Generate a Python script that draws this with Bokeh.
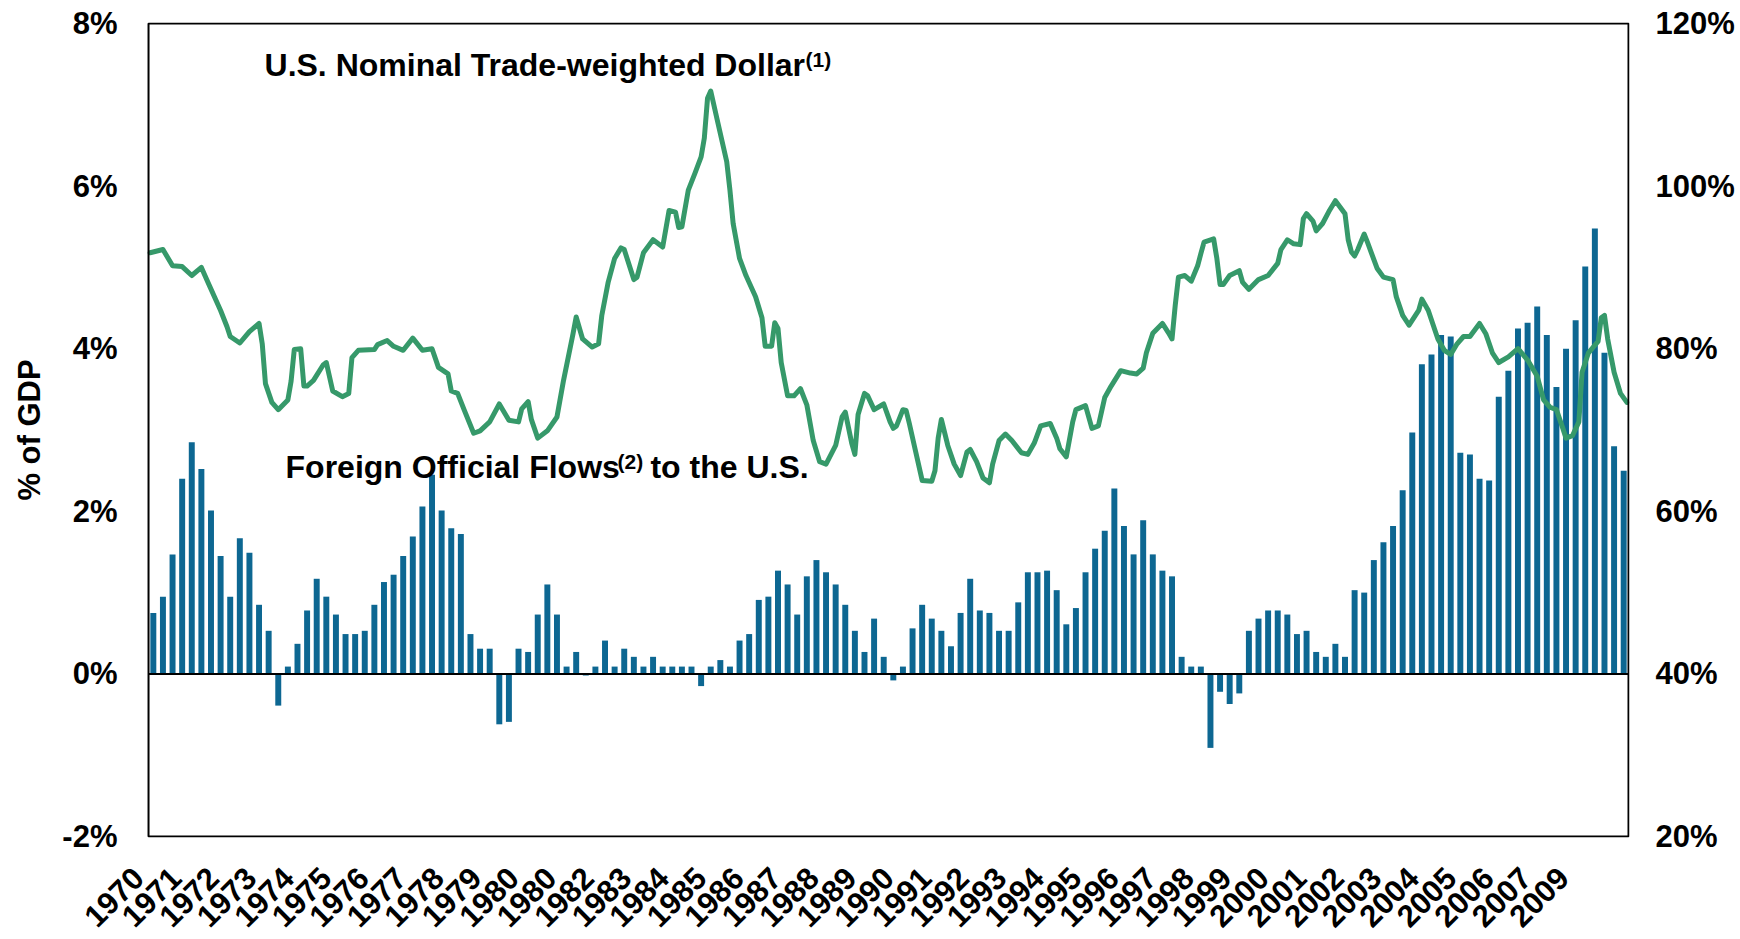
import math
from bokeh.plotting import figure
from bokeh.models import (Range1d, LinearAxis, FixedTicker, PrintfTickFormatter,
                          CustomJSTickFormatter, BoxAnnotation)
from bokeh.core.properties import value
from bokeh.embed import file_html
from bokeh.resources import INLINE

# ---------------- data ----------------
# Foreign official flows to the U.S., % of GDP, quarterly from 1970Q1
flows = [
    0.75, 0.95, 1.47, 2.40, 2.85, 2.52, 2.01, 1.45, 0.95, 1.67,
    1.49, 0.85, 0.53, -0.39, 0.09, 0.37, 0.78, 1.17, 0.95, 0.73,
    0.49, 0.49, 0.53, 0.85, 1.13, 1.22, 1.45, 1.69, 2.06, 2.45,
    2.01, 1.79, 1.72, 0.49, 0.31, 0.31, -0.62, -0.59, 0.31, 0.27,
    0.73, 1.10, 0.73, 0.09, 0.27, -0.02, 0.09, 0.41, 0.09, 0.31,
    0.21, 0.09, 0.21, 0.09, 0.09, 0.09, 0.09, -0.15, 0.09, 0.17,
    0.09, 0.41, 0.49, 0.91, 0.95, 1.27, 1.10, 0.73, 1.20, 1.40,
    1.25, 1.10, 0.85, 0.53, 0.27, 0.68, 0.21, -0.08, 0.09, 0.56,
    0.85, 0.68, 0.53, 0.34, 0.75, 1.17, 0.78, 0.75, 0.53, 0.53,
    0.88, 1.25, 1.25, 1.27, 1.03, 0.61, 0.81, 1.25, 1.54, 1.76,
    2.28, 1.82, 1.47, 1.89, 1.47, 1.27, 1.20, 0.21, 0.09, 0.09,
    -0.91, -0.22, -0.37, -0.24, 0.53, 0.68, 0.78, 0.78, 0.73, 0.49,
    0.53, 0.27, 0.21, 0.37, 0.21, 1.03, 1.00, 1.40, 1.62, 1.82,
    2.26, 2.97, 3.81, 3.93, 4.17, 4.15, 2.72, 2.70, 2.40, 2.38,
    3.41, 3.73, 4.25, 4.32, 4.52, 4.17, 3.53, 4.00, 4.35, 5.01,
    5.48, 3.95, 2.80, 2.50,
]

# U.S. nominal trade-weighted dollar (right axis), month number since Jan 1970
usd_month = [
    0, 4, 7, 10, 13, 16, 18, 22, 24, 25, 28, 31, 34, 35, 36, 38, 40, 43, 44, 45,
    47, 48, 49, 51, 54, 55, 57, 60, 62, 63, 65, 70, 71, 74, 76, 79, 82, 85, 88, 90,
    93, 94, 96, 98, 101, 103, 106, 109, 112, 115, 116, 118, 119, 121, 124, 127, 129, 132, 133, 135,
    138, 140, 141, 143, 145, 147, 148, 151, 152, 154, 157, 160, 162, 164, 165, 166, 168, 170, 172, 173,
    174, 175, 177, 180, 181, 182, 184, 186, 189, 191, 192, 194, 195, 196, 197, 199, 201, 203, 205, 207,
    209, 211, 214, 216, 217, 219, 220, 221, 223, 224, 226, 229, 231, 232, 233, 235, 236, 237, 239, 241,
    244, 245, 246, 247, 249, 251, 253, 255, 256, 258, 260, 262, 263, 265, 267, 269, 272, 274, 276, 278,
    281, 283, 284, 286, 288, 289, 292, 294, 296, 298, 300, 303, 306, 308, 310, 311, 313, 316, 318, 319,
    320, 321, 323, 325, 327, 328, 329, 332, 333, 334, 335, 337, 340, 341, 343, 346, 349, 352, 353, 355,
    357, 359, 360, 361, 363, 364, 366, 368, 370, 373, 374, 375, 376, 377, 379, 380, 383, 385, 388, 389,
    391, 393, 396, 397, 399, 402, 404, 406, 408, 410, 412, 415, 417, 419, 421, 424, 427, 430, 433, 435,
    437, 439, 441, 442, 444, 446, 447, 449, 452, 453, 454, 455, 457, 459, 461,
]
usd_value = [
    91.8, 92.2, 90.2, 90.1, 89.0, 90.0, 88.2, 84.7, 82.7, 81.5, 80.7, 82.1, 83.1, 80.6, 75.7, 73.4, 72.5, 73.7, 76.0, 79.9,
    80.0, 75.4, 75.4, 76.1, 78.0, 78.3, 74.8, 74.1, 74.5, 78.9, 79.8, 79.9, 80.5, 81.0, 80.3, 79.8, 81.3, 79.8, 80.0, 77.7,
    76.9, 74.8, 74.5, 72.5, 69.6, 69.9, 71.0, 73.2, 71.2, 71.0, 72.6, 73.5, 71.3, 69.0, 69.9, 71.6, 76.0, 81.8, 83.9, 81.2,
    80.2, 80.6, 84.1, 88.2, 91.1, 92.4, 92.2, 88.5, 88.8, 91.8, 93.4, 92.5, 97.0, 96.8, 94.9, 95.0, 99.5, 101.5, 103.6, 105.9,
    110.8, 111.7, 108.2, 103.0, 99.5, 95.4, 91.1, 89.0, 86.4, 83.8, 80.3, 80.3, 83.2, 82.5, 78.3, 74.2, 74.2, 75.1, 73.1, 68.7,
    66.1, 65.8, 68.1, 71.6, 72.2, 68.4, 67.0, 71.9, 74.5, 74.2, 72.5, 73.2, 71.0, 70.2, 70.5, 72.5, 72.4, 70.8, 67.3, 63.8,
    63.7, 65.0, 69.0, 71.3, 68.1, 65.8, 64.4, 67.3, 67.6, 66.1, 64.1, 63.5, 65.8, 68.7, 69.5, 68.7, 67.2, 67.0, 68.4, 70.5,
    70.8, 69.0, 67.7, 66.7, 71.0, 72.5, 73.0, 70.2, 70.5, 74.0, 75.4, 77.3, 77.0, 76.9, 77.6, 79.5, 81.9, 83.1, 81.9, 81.2,
    85.3, 88.8, 89.0, 88.3, 90.2, 91.7, 93.1, 93.5, 91.1, 87.9, 87.9, 89.0, 89.6, 88.2, 87.3, 88.5, 89.0, 90.5, 92.2, 93.4,
    92.9, 92.8, 96.0, 96.6, 95.7, 94.5, 95.4, 96.9, 98.2, 96.6, 93.4, 91.9, 91.4, 92.2, 94.1, 93.1, 89.9, 88.8, 88.5, 86.4,
    84.1, 82.9, 84.7, 86.1, 84.7, 81.2, 79.8, 79.3, 80.6, 81.5, 81.5, 83.1, 81.8, 79.5, 78.3, 79.0, 80.0, 78.6, 76.6, 73.7,
    72.8, 72.5, 70.2, 69.0, 69.3, 71.0, 77.1, 79.5, 80.9, 83.8, 84.1, 81.2, 77.1, 74.5, 73.4,
]

year_labels = [
    "1970", "1971", "1972", "1973", "1974", "1975", "1976", "1977", "1978", "1979",
    "1980", "1980", "1982", "1983", "1984", "1985", "1986", "1987", "1988", "1989",
    "1990", "1991", "1992", "1993", "1994", "1995", "1996", "1997", "1998", "1999",
    "2000", "2001", "2002", "2003", "2004", "2005", "2006", "2007", "2009",
]
left_ticks = [-2, 0, 2, 4, 6, 8]
right_ticks = [20, 40, 60, 80, 100, 120]

line_title = "U.S. Nominal Trade-weighted Dollar"
bar_title_a = "Foreign Official Flows"
bar_title_b = "to the U.S."

# ---------------- figure ----------------
FONT = "Liberation Sans"
BAR = "#0D6792"
GREEN = "#36996A"

n = len(flows)
x_left, x_right = -0.5, n - 0.5
lab_start, lab_step = -1.57, 3.902

pad_y = 0.0123          # one pixel of breathing room so the border is not clipped
pad_r = pad_y * 10
pad_x = 0.104

p = figure(width=1740, height=939,
           x_range=Range1d(-3.0, x_right + pad_x),
           y_range=Range1d(left_ticks[0] - pad_y, left_ticks[-1] + pad_y),
           output_backend="svg", toolbar_location=None,
           min_border_left=124, min_border_right=111, min_border_top=22, min_border_bottom=102)
p.outline_line_color = None
p.background_fill_color = "white"
p.border_fill_color = "white"
p.xgrid.visible = False
p.ygrid.visible = False

p.extra_y_ranges = {"right": Range1d(right_ticks[0] - pad_r, right_ticks[-1] + pad_r)}

# left axis
ya = p.yaxis[0]
ya.ticker = FixedTicker(ticks=left_ticks)
ya.formatter = PrintfTickFormatter(format="%d%%")
ya.axis_label = "% of GDP"

# right axis
ra = LinearAxis(y_range_name="right", ticker=FixedTicker(ticks=right_ticks),
                formatter=PrintfTickFormatter(format="%d%%"))
p.add_layout(ra, "right")

# bottom axis (year labels)
xa = p.xaxis[0]
xa.ticker = FixedTicker(ticks=[lab_start + lab_step * k for k in range(len(year_labels))])
xa.formatter = CustomJSTickFormatter(args=dict(labels=year_labels, a=lab_start, b=lab_step),
                                     code="return labels[Math.round((tick - a) / b)];")
xa.major_label_orientation = math.pi / 4

for ax in (ya, ra, xa):
    ax.axis_line_color = None
    ax.major_tick_line_color = None
    ax.minor_tick_line_color = None
    ax.major_tick_out = 0
    ax.major_tick_in = 0
    ax.minor_tick_out = 0
    ax.minor_tick_in = 0
    ax.major_label_text_font = FONT
    ax.major_label_text_font_style = "bold"
    ax.major_label_text_font_size = "31px"
    ax.major_label_text_color = "black"

ya.major_label_standoff = 7
ra.major_label_standoff = 26
xa.major_label_standoff = 35
ya.axis_label_text_font = FONT
ya.axis_label_text_font_style = "bold"
ya.axis_label_text_font_size = "31px"
ya.axis_label_text_color = "black"
ya.axis_label_standoff = 12

# bars
p.vbar(x=list(range(n)), top=flows, bottom=0, width=0.62, color=BAR, line_color=None)

# zero line across the plot area
p.segment(x0=[x_left], y0=[0], x1=[x_right], y1=[0], line_color="black", line_width=2)

# dollar line
usd_x = [(m - 1) / 3 for m in usd_month]
p.line(usd_x, usd_value, y_range_name="right", line_color=GREEN, line_width=5,
       line_join="round", line_cap="round")

# plot-area border
p.add_layout(BoxAnnotation(left=x_left, right=x_right, bottom=left_ticks[0], top=left_ticks[-1],
                           fill_color=None, fill_alpha=0, line_color="black", line_alpha=1.0,
                           line_width=2))

# annotations
def tx(x, y, t, size):
    p.text(x=[x], y=[y], text=[t], text_font=value(FONT), text_font_style="bold",
           text_font_size=size, text_color="black", text_align="left",
           text_baseline="middle")

tx(11.57, 7.487, line_title, "32px")
tx(67.87, 7.560, "(1)", "21px")
tx(13.76, 2.539, bar_title_a, "32px")
tx(48.3, 2.613, "(2)", "21px")
tx(51.73, 2.539, bar_title_b, "32px")

open("out.html", "w").write(file_html(p, INLINE))
